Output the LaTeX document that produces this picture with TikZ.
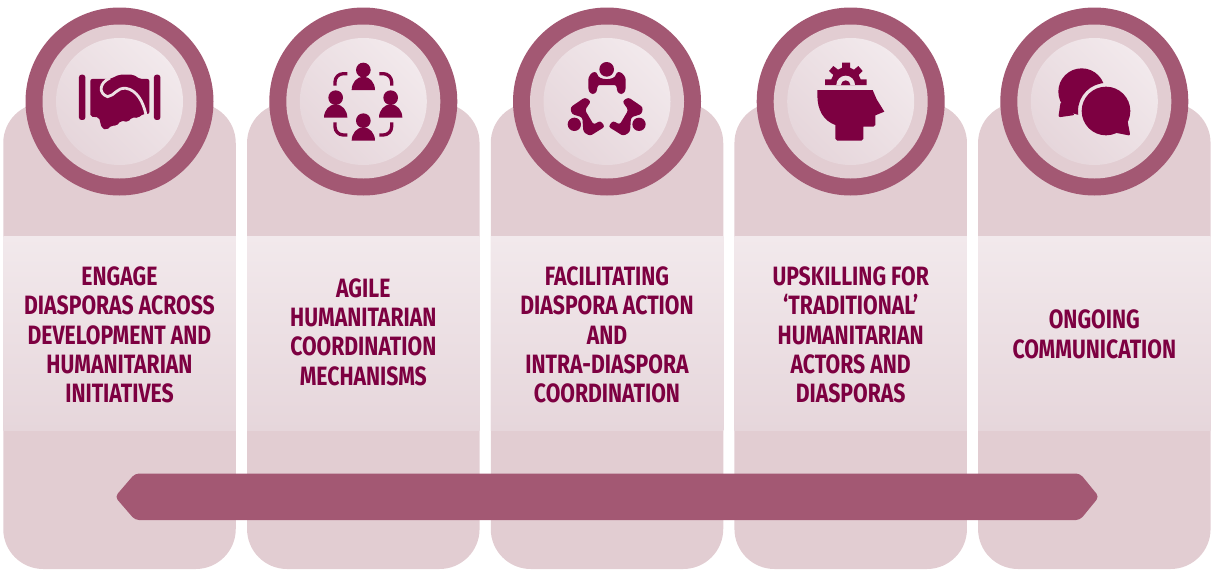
\documentclass[tikz,border=0pt]{standalone}
\usepackage{fontspec}
\setmainfont[FakeStretch=0.80]{Fira Sans}
\definecolor{ink}{HTML}{7D0041}
\definecolor{ring}{HTML}{A35873}
\definecolor{cardc}{HTML}{E2CDD2}
\definecolor{lite}{HTML}{F2E9EC}
\definecolor{dim}{HTML}{E6D6DB}
\definecolor{mid}{HTML}{EDE0E4}
\tikzset{
 cardbox/.style={fill=cardc,rounded corners=40pt,minimum width=232.5pt,minimum height=466pt,inner sep=0pt,outer sep=0pt},
 bandbox/.style={top color=lite,bottom color=dim,minimum width=232.5pt,minimum height=194pt,inner sep=0pt,outer sep=0pt},
 ringc/.style={circle,fill=ring,minimum size=188pt,inner sep=0pt,outer sep=0pt},
 midc/.style={circle,fill=cardc,minimum size=154pt,inner sep=0pt,outer sep=0pt},
 innerc/.style={circle,top color=lite,bottom color=dim,shading angle=-45,minimum size=127pt,inner sep=0pt,outer sep=0pt},
 lab/.style={text=ink,align=center,font=\fontsize{26.5}{29.4}\selectfont\bfseries,inner sep=0pt},
 icon/.style={shift={#1},x=.33333pt,y=-.33333pt,color=ink},
}
\newcommand\personfig[2]{%
 \fill (#1,#2) circle (22);
 \fill (#1-35,#2+60) arc[start angle=180,end angle=360,x radius=35,y radius=40] -- cycle;}
\newcommand\sitfig{%
 \fill (118,283) circle (20);
 \fill[rounded corners=2.5pt] (150,202) -- (168,214) -- (150,240) -- (176,284) -- (196,272) -- (210,290) -- (165,318) -- (145,306) -- (142,262) -- (110,252) -- (106,232) -- cycle;}
\begin{document}
\begin{tikzpicture}[x=1pt,y=-1pt]
\useasboundingbox (0,0) rectangle (1212,570);
\foreach \n/\x in {1/119.5,2/363.3,3/607,4/850.7,5/1094.3}{
 \node[cardbox] (card\n) at (\x,336) {};
 \node[bandbox] (band\n) at (\x,333) {};
}
\foreach \n/\x in {1/119.5,2/363.3,3/607,4/850.7,5/1094.3}{
 \node[ringc] (ring\n) at (\x,101.5) {};
 \node[midc] (mid\n) at (\x,101.5) {};
 \node[innerc] (inner\n) at (\x,101.5) {};
}
\fill[ring,rounded corners=4pt] (135,473.5) -- (1080,473.5) -- (1099,496.8) -- (1080,520) -- (135,520) -- (115,496.8) -- cycle;
% labels
\node[lab] (t1) at (119.5,335) {ENGAGE\\DIASPORAS ACROSS\\DEVELOPMENT AND\\HUMANITARIAN\\INITIATIVES};
\node[lab] (t2) at (363.3,332) {AGILE\\HUMANITARIAN\\COORDINATION\\MECHANISMS};
\node[lab] (t3) at (607,335) {FACILITATING\\DIASPORA ACTION\\AND\\INTRA-DIASPORA\\COORDINATION};
\node[lab] (t4) at (850.7,335) {UPSKILLING FOR\\‘TRADITIONAL’\\HUMANITARIAN\\ACTORS AND\\DIASPORAS};
\node[lab] (t5) at (1094.3,334.5) {ONGOING\\COMMUNICATION};
% handshake
\begin{scope}[icon={(0,0)}]
 \fill[rounded corners=2.5pt] (237,224) rectangle (256,360);
 \fill[rounded corners=2.5pt] (462,224) rectangle (481,360);
 \fill[rounded corners=2pt] (271,237) -- (330,237) -- (358,224) -- (400,224) -- (420,237) -- (448,237) -- (448,342) -- (428,342) -- (415,354) -- (395,352) -- (385,366) -- (362,362) -- (350,378) -- (335,376) -- (320,390) -- (305,384) -- (297,352) -- (271,350) -- cycle;
 \draw[mid,line width=2.8pt] (330,234) .. controls (298,248) and (294,280) .. (323,290) .. controls (345,287) and (350,262) .. (378,265) .. controls (410,270) and (430,305) .. (438,345);
\end{scope}
% network
\begin{scope}[icon={(290,30)}]
 \personfig{220}{120}
 \personfig{137}{203}
 \personfig{302}{203}
 \personfig{220}{272}
 \begin{scope}[line width=3.3pt]
 \draw (172,131) -- (160,131) arc[start angle=270,end angle=180,radius=25] -- (135,167);
 \draw (268,131) -- (280,131) arc[start angle=270,end angle=360,radius=25] -- (305,167);
 \draw (135,277) -- (135,290) arc[start angle=180,end angle=90,radius=25] -- (172,315);
 \draw (305,277) -- (305,290) arc[start angle=0,end angle=90,radius=25] -- (268,315);
 \end{scope}
\end{scope}
% seated group
\begin{scope}[icon={(535,30)}]
 \fill (215,118) circle (22);
 \fill[rounded corners=2.5pt] (160,180) -- (160,142) -- (172,126) -- (186,126) .. controls (190,152) and (240,152) .. (244,126) -- (258,126) -- (272,142) -- (272,180) -- (265,192) -- (252,192) -- (245,180) -- (245,165) -- (187,165) -- (187,180) -- (180,192) -- (167,192) -- cycle;
 \sitfig
\end{scope}
\begin{scope}[icon={(678.33,30)},x=-.33333pt]
 \sitfig
\end{scope}
% head and gear
\begin{scope}[icon={(780,30)}]
 \fill (135,165) -- (135,148) -- (154,148) -- (160,135) -- (147,123) -- (160,108) -- (174,119) -- (186,113) -- (186,98) -- (210,98) -- (210,113) -- (222,119) -- (235,108) -- (248,123) -- (236,135) -- (242,148) -- (260,148) -- (260,165) -- cycle;
 \fill[mid] (169,165) arc[start angle=180,end angle=360,radius=28] -- cycle;
 \fill (183,165) arc[start angle=180,end angle=360,radius=14] -- cycle;
 \fill (112,180) -- (278,180) -- (290,208) -- (313,245) -- (286,256) -- (286,285) -- (280,290) -- (250,290) -- (250,326) -- (244,332) -- (172,332) -- (166,326) -- (166,285) .. controls (130,272) and (112,240) .. (112,195) -- cycle;
\end{scope}
% speech bubbles
\begin{scope}[icon={(1020,30)}]
 \begin{scope}[even odd rule]
 \clip (0,0) rectangle (450,450) (258,243) circle (84);
 \fill (185,185) circle (70);
 \fill[rounded corners=2pt] (122,215) -- (115,262) -- (165,255) -- cycle;
 \end{scope}
 \fill (258,243) circle (73);
 \fill[rounded corners=2pt] (322,270) -- (331,317) -- (285,308) -- cycle;
\end{scope}
\end{tikzpicture}
\end{document}
